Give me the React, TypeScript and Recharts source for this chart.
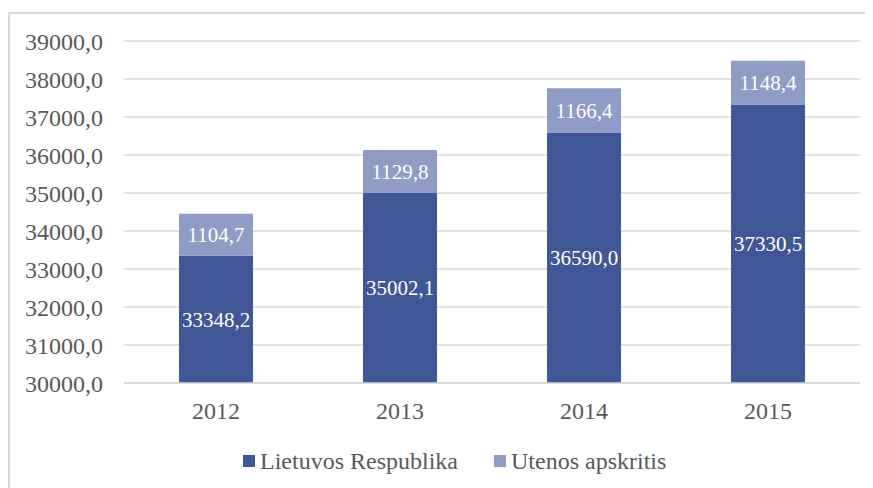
import React from 'react';
import { BarChart, Bar, XAxis, YAxis, CartesianGrid, Legend, LabelList } from 'recharts';

// Series colours
const DARK_BLUE = '#3F5797';
const LIGHT_BLUE = '#8E9CC6';
const TEXT_GRAY = '#595959';
const GRID_GRAY = '#d9d9d9';

const years = ['2012', '2013', '2014', '2015'];
const lietuvosRespublika = [33348.2, 35002.1, 36590.0, 37330.5];
const utenosApskritis = [1104.7, 1129.8, 1166.4, 1148.4];
const yTicks = [30000, 31000, 32000, 33000, 34000, 35000, 36000, 37000, 38000, 39000];

const data = years.map((year, i) => ({
  year,
  lr: lietuvosRespublika[i],
  ua: utenosApskritis[i],
}));

const fmt = (v: any) => Number(v).toFixed(1).replace('.', ',');

const FONT = 'Tinos, "Times New Roman", Times, "Noto Serif", "Liberation Serif", serif';

const legendItems = [
  { name: 'Lietuvos Respublika', color: DARK_BLUE },
  { name: 'Utenos apskritis', color: LIGHT_BLUE },
];

const CustomLegend = () => (
  <div
    style={{
      display: 'flex',
      alignItems: 'center',
      marginLeft: 233,
      fontFamily: FONT,
      fontSize: 24,
      color: TEXT_GRAY,
      lineHeight: '28px',
    }}
  >
    {legendItems.map((item, i) => (
      <div key={item.name} style={{ display: 'flex', alignItems: 'center', marginRight: i === 0 ? 36 : 0 }}>
        <span style={{ width: 12, height: 12, background: item.color, display: 'inline-block', marginRight: 5 }} />
        <span>{item.name}</span>
      </div>
    ))}
  </div>
);

export default function App() {
  return (
    <div
      style={{
        marginTop: 4,
        width: 865,
        height: 476,
        borderLeft: '2px solid #d9d9d9',
        borderTop: '2px solid #d9d9d9',
        boxSizing: 'border-box',
        fontFamily: FONT,
      }}
    >
      <BarChart
        width={863}
        height={474}
        data={data}
        margin={{ top: 27, right: 13, left: 0, bottom: 47 }}
        barSize={74}
      >
        <CartesianGrid vertical={false} stroke={GRID_GRAY} strokeWidth={1.5} />
        <XAxis
          dataKey="year"
          height={30}
          axisLine={{ stroke: GRID_GRAY, strokeWidth: 1.5 }}
          tickLine={false}
          tickMargin={13}
          tick={{ fill: TEXT_GRAY, fontSize: 24, fontFamily: FONT }}
        />
        <YAxis
          width={114}
          domain={[30000, 39000]}
          ticks={yTicks}
          interval={0}
          allowDataOverflow
          axisLine={false}
          tickLine={false}
          tickMargin={15}
          tickFormatter={fmt}
          tick={{ fill: TEXT_GRAY, fontSize: 24, fontFamily: FONT }}
        />
        <Legend
          content={<CustomLegend />}
          wrapperStyle={{ left: 0, top: 433, width: 863 }}
        />
        <Bar dataKey="lr" name="Lietuvos Respublika" stackId="a" fill={DARK_BLUE} isAnimationActive={false}>
          <LabelList dataKey="lr" position="center" formatter={fmt} fill="#ffffff" fontSize={21} fontFamily={FONT} />
        </Bar>
        <Bar dataKey="ua" name="Utenos apskritis" stackId="a" fill={LIGHT_BLUE} isAnimationActive={false}>
          <LabelList dataKey="ua" position="center" formatter={fmt} fill="#ffffff" fontSize={21} fontFamily={FONT} />
        </Bar>
      </BarChart>
    </div>
  );
}
